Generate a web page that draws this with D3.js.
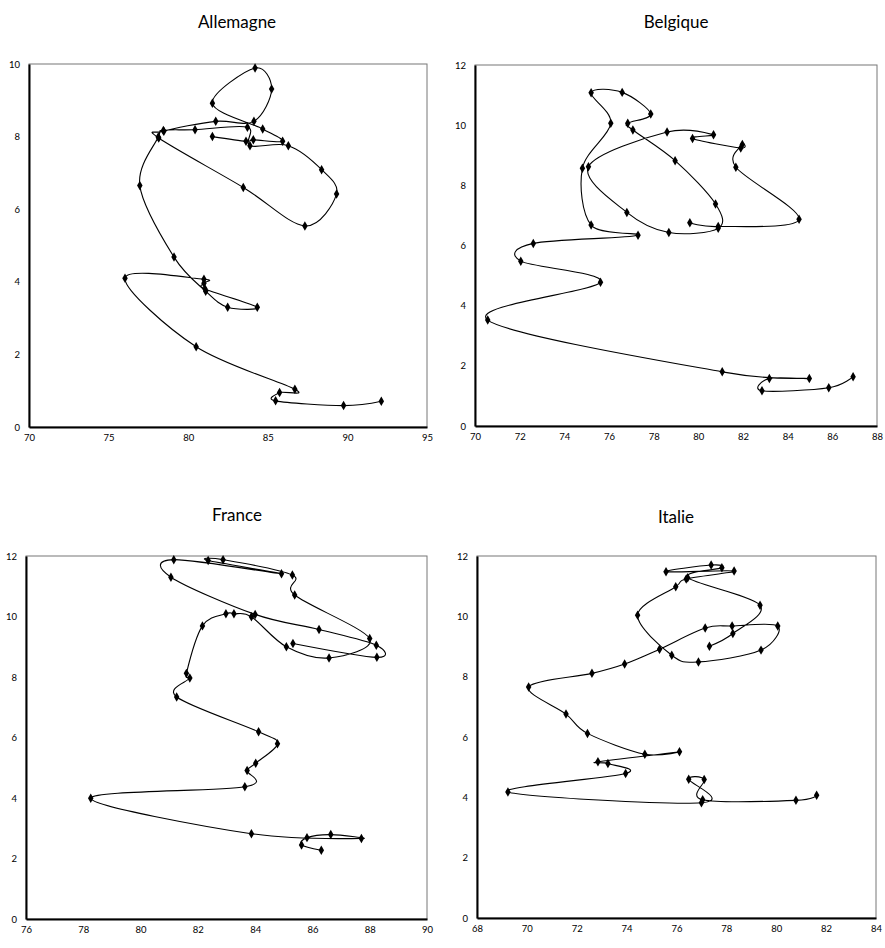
<!DOCTYPE html>
<html lang="fr">
<head>
<meta charset="UTF-8">
<title>Trajectoires</title>
<script src="https://d3js.org/d3.v7.min.js"></script>
<style>
  body { margin: 0; background: #fff; }
  svg text { font-family: Lato, "Open Sans", sans-serif; }
  .title { font-size: 17px; fill: #000; }
  .tick text { font-size: 9.5px; fill: #000; }
</style>
</head>
<body>
<div id="chart"></div>
<script>
// values, in path order
const allemagneX = [92.13, 89.76, 85.49, 85.74, 86.70, 80.50, 76.03, 80.99, 80.99, 81.06, 84.34, 82.48, 81.10, 79.11,
  76.96, 78.12, 78.44, 80.43, 83.72, 83.88, 86.29, 88.38, 89.32, 87.33, 83.46, 78.15, 78.47, 81.73, 84.13,
  85.24, 84.20, 81.52, 84.68, 85.93, 84.09, 83.63, 81.52];
const allemagneY = [0.71, 0.59, 0.72, 0.95, 1.04, 2.21, 4.10, 4.07, 3.96, 3.80, 3.30, 3.30, 3.74, 4.68,
  6.65, 7.99, 8.17, 8.19, 8.26, 7.75, 7.75, 7.09, 6.42, 5.54, 6.60, 7.96, 8.15, 8.42, 8.42,
  9.31, 9.89, 8.92, 8.21, 7.87, 7.91, 7.87, 8.00];

const belgiqueX = [86.93, 85.84, 82.85, 83.18, 84.97, 81.07, 70.57, 75.62, 72.05, 72.61, 77.30, 75.20, 74.81,
  76.08, 75.20, 76.59, 77.87, 76.84, 77.07, 78.96, 80.77, 80.89, 78.68, 76.80, 75.08, 78.60, 80.68,
  79.74, 81.90, 81.97, 81.68, 84.51, 80.89, 79.62];
const belgiqueY = [1.64, 1.27, 1.17, 1.58, 1.58, 1.80, 3.52, 4.78, 5.48, 6.07, 6.34, 6.68, 8.57,
  10.06, 11.08, 11.09, 10.37, 10.06, 9.84, 8.82, 7.38, 6.57, 6.43, 7.10, 8.62, 9.77, 9.68,
  9.56, 9.24, 9.36, 8.60, 6.87, 6.63, 6.76];

const franceX = [86.31, 85.62, 85.81, 86.64, 87.71, 83.87, 78.26, 83.64, 83.72, 84.02, 84.78, 84.12, 81.26,
  81.72, 81.60, 82.16, 82.98, 83.26, 83.87, 85.09, 86.58, 88.00, 85.38, 85.30, 82.88, 82.36, 84.92,
  81.16, 81.06, 84.00, 86.23, 88.23, 88.25, 85.32];
const franceY = [2.27, 2.45, 2.69, 2.79, 2.66, 2.82, 3.99, 4.37, 4.91, 5.15, 5.79, 6.19, 7.34,
  7.97, 8.12, 9.69, 10.09, 10.09, 9.99, 9.00, 8.63, 9.27, 10.71, 11.37, 11.88, 11.85, 11.41,
  11.88, 11.30, 10.07, 9.57, 9.05, 8.65, 9.11];

const italieX = [81.62, 80.79, 77.05, 77.11, 76.49, 77.00, 69.24, 73.96, 73.25, 72.85, 76.12, 74.73, 72.43,
  71.57, 70.07, 72.61, 73.92, 75.32, 77.15, 78.23, 80.06, 79.39, 76.88, 75.81, 74.44, 75.97, 76.39,
  78.31, 75.58, 77.39, 77.82, 76.45, 79.35, 78.26, 77.32];
const italieY = [4.07, 3.90, 3.92, 4.59, 4.60, 3.82, 4.18, 4.79, 5.12, 5.18, 5.51, 5.43, 6.12,
  6.76, 7.66, 8.11, 8.42, 8.91, 9.61, 9.68, 9.68, 8.88, 8.49, 8.71, 10.04, 10.98, 11.24,
  11.50, 11.48, 11.70, 11.61, 11.28, 10.37, 9.43, 9.01];

const titles = ["Allemagne", "Belgique", "France", "Italie"];
const xTicks = [
  [70, 75, 80, 85, 90, 95],
  [70, 72, 74, 76, 78, 80, 82, 84, 86, 88],
  [76, 78, 80, 82, 84, 86, 88, 90],
  [68, 70, 72, 74, 76, 78, 80, 82, 84]
];
const yTicks = [
  [0, 2, 4, 6, 8, 10],
  [0, 2, 4, 6, 8, 10, 12],
  [0, 2, 4, 6, 8, 10, 12],
  [0, 2, 4, 6, 8, 10, 12]
];

const width = 885, height = 948;
const svg = d3.select("#chart").append("svg")
  .attr("width", width).attr("height", height);

// panel boxes in pixels
const panels = [
  { xs: allemagneX, ys: allemagneY, left: 29, right: 427, top: 64, bottom: 427, titleX: 237, titleY: 28 },
  { xs: belgiqueX, ys: belgiqueY, left: 475, right: 877, top: 65, bottom: 426, titleX: 676, titleY: 28 },
  { xs: franceX, ys: franceY, left: 26, right: 427, top: 556, bottom: 919, titleX: 237, titleY: 521 },
  { xs: italieX, ys: italieY, left: 477, right: 876, top: 556, bottom: 918, titleX: 676, titleY: 523 }
];

panels.forEach((p, i) => {
  const xt = xTicks[i], yt = yTicks[i];
  const x = d3.scaleLinear().domain([xt[0], xt[xt.length - 1]]).range([p.left, p.right]);
  const y = d3.scaleLinear().domain([yt[0], yt[yt.length - 1]]).range([p.bottom, p.top]);
  const g = svg.append("g");

  g.append("text").attr("class", "title")
    .attr("x", p.titleX).attr("y", p.titleY)
    .attr("text-anchor", "middle").text(titles[i]);

  // frame
  g.append("rect")
    .attr("x", p.left).attr("y", p.top)
    .attr("width", p.right - p.left).attr("height", p.bottom - p.top)
    .attr("fill", "none").attr("stroke", "#777").attr("stroke-width", 1);

  const xAxis = g.append("g")
    .attr("transform", `translate(0,${p.bottom})`)
    .call(d3.axisBottom(x).tickValues(xt).tickSize(0).tickPadding(7).tickFormat(d3.format("d")));
  const yAxis = g.append("g")
    .attr("transform", `translate(${p.left},0)`)
    .call(d3.axisLeft(y).tickValues(yt).tickSize(0).tickPadding(9).tickFormat(d3.format("d")));
  xAxis.select(".domain").attr("stroke", "#000").attr("stroke-width", 2);
  yAxis.select(".domain").attr("stroke", "#000").attr("stroke-width", 2);

  const pts = p.xs.map((v, k) => [v, p.ys[k]]);

  g.append("path")
    .datum(pts)
    .attr("fill", "none")
    .attr("stroke", "#000")
    .attr("stroke-width", 1.1)
    .attr("d", d3.line().x(d => x(d[0])).y(d => y(d[1])).curve(d3.curveCardinal.tension(0)));

  g.selectAll(".pt")
    .data(pts)
    .join("path")
    .attr("class", "pt")
    .attr("transform", d => `translate(${x(d[0])},${y(d[1])})`)
    .attr("d", d3.symbol().type(d3.symbolDiamond).size(26))
    .attr("fill", "#000");
});
</script>
</body>
</html>
